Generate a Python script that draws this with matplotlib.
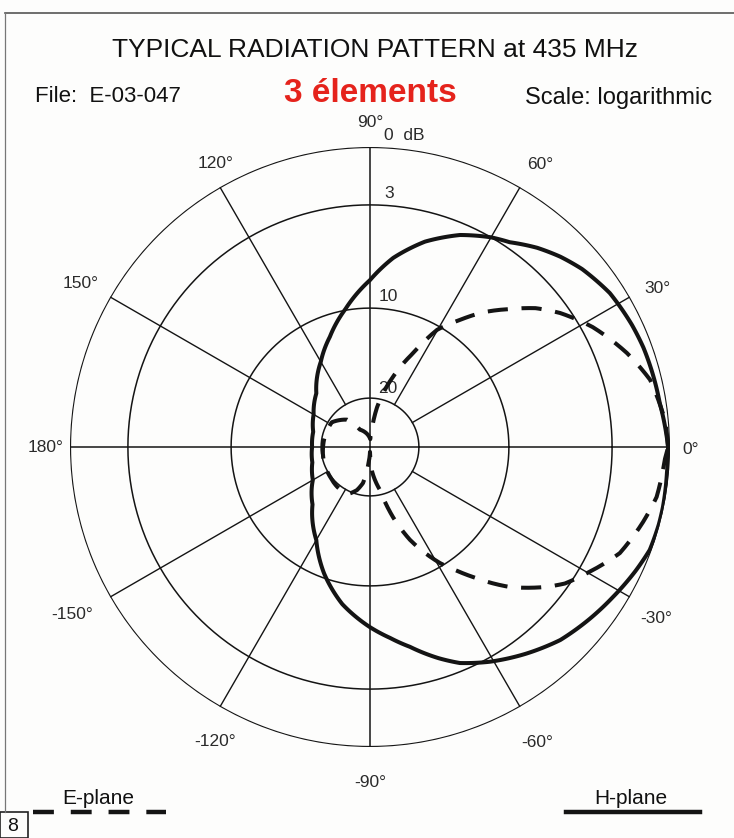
import numpy as np
import matplotlib
matplotlib.use("Agg")
import matplotlib.pyplot as plt
from matplotlib.lines import Line2D
from matplotlib.patches import Rectangle

plt.rcParams['font.family'] = ['Liberation Sans', 'DejaVu Sans']

# ---------------- data ----------------
TITLE = "TYPICAL RADIATION PATTERN at 435 MHz"
FILE_TXT = "File:  E-03-047"
SUBTITLE = "3 élements"
SCALE_TXT = "Scale: logarithmic"

# logarithmic radial scale: ring values (dB below max) and their relative radius
RING_DB = [0, 3, 10, 20]
RING_LABELS = ["0  dB", "3", "10", "20"]
RING_R = [1.0, 0.807, 0.463, 0.163]
CENTER_DB = 30

ANGLE_TICKS = [90, 60, 30, 0, -30, -60, -90, -120, -150, 180, 150, 120]
ANGLE_LABELS = ["90°", "60°", "30°", "0°", "-30°", "-60°", "-90°",
                "-120°", "-150°", "180°", "150°", "120°"]

# H-plane (solid)
H_ANGLE = [0, 8.6, 15, 20, 25, 32.7, 40, 45, 50, 55.7, 60, 67, 75, 83, 90,
           100, 110, 120, 135, 150, 165, 180, -165, -150, -135, -120, -110,
           -100, -90, -84, -78.7, -72, -67.4, -60.8, -53, -45.4, -38, -31.7,
           -25, -20.2, -15, -11.6, -5, -2.5]
H_DB = [0.1, 0.36, 0.42, 0.47, 0.57, 0.78, 1.2, 1.6, 2.07, 2.7, 3.0, 3.8, 5.0,
        6.5, 8.1, 9.9, 12.4, 14.5, 17.0, 18.2, 18.9, 19.0, 18.8, 18.1, 16.4,
        13.5, 10.5, 8.6, 7.2, 6.4, 5.6, 4.36, 3.55, 2.8, 2.13, 1.5, 1.09,
        0.75, 0.36, 0.1, 0.05, 0.05, 0.1, 0.1]

# E-plane (dashed)
E_ANGLE = [0, 5.2, 13.5, 20.1, 28.3, 35.2, 40, 44.6, 50, 54.7, 60.2, 65.4,
           71.8, 80, 83, 88, 120, 130, 147, 158, 180, -143, -129.5, -115.6,
           -106.8, -101, -95, -90, -85, -77, -71.8, -66.7, -58.9, -55, -51.6,
           -45, -38.3, -35, -30.1, -23, -15.6, -9.9, -2.5]
E_DB = [0.1, 0.2, 0.62, 1.37, 2.44, 3.65, 4.77, 6.1, 7.5, 8.86, 10.43, 14.0,
        17.2, 21.8, 25.1, 28.4, 25.9, 22.7, 20.7, 20.6, 20.4, 19.9, 19.7,
        19.6, 20.8, 22.5, 26.9, 29.0, 24.9, 21.0, 17.2, 14.2, 10.37, 9.19,
        8.17, 5.99, 4.12, 3.28, 2.53, 1.48, 0.89, 0.47, 0.26]


def db_to_r(db):
    return np.interp(db, RING_DB + [CENTER_DB], RING_R + [0.0])


def closed(angles, dbs):
    th = np.deg2rad(np.mod(np.asarray(angles, float), 360))
    r = db_to_r(np.asarray(dbs, float))
    return np.append(th, th[0] + 2 * np.pi), np.append(r, r[0])


# ---------------- layout ----------------
W, H = 734, 838
fig = plt.figure(figsize=(W / 100, H / 100), dpi=100)
fig.patch.set_facecolor('#fdfdfc')

CX, CY, R = 370, 447, 300
ax = fig.add_axes([(CX - R) / W, 1 - (CY + R) / H, 2 * R / W, 2 * R / H],
                  projection='polar')
ax.set_ylim(0, 1)
ax.set_facecolor('none')
ax.grid(False)
ax.set_xticks([])
ax.set_yticks([])
ax.spines['polar'].set_visible(False)

INK = '#141414'
TXT = '#2a2a2a'

t = np.linspace(0, 2 * np.pi, 721)
for i, rr in enumerate(RING_R):
    ax.plot(t, np.full_like(t, rr), color=INK, lw=1.6 if i == 0 else 1.1,
            zorder=2)

for a in [30, 60, 120, 150, 210, 240, 300, 330]:
    th = np.deg2rad(a)
    ax.plot([th, th], [RING_R[-1], 1.0], color=INK, lw=1.0, zorder=2)
for a in [0, 90, 180, 270]:
    th = np.deg2rad(a)
    ax.plot([th, th], [0, 1.0], color=INK, lw=1.1, zorder=2)

# patterns (drawn along the polar coordinate system between readings)
th, r = closed(H_ANGLE, H_DB)
h_line, = ax.plot(th, r, color=INK, lw=2.9, zorder=4,
                  solid_joinstyle='round', solid_capstyle='round')
th, r = closed(E_ANGLE, E_DB)
e_line, = ax.plot(th, r, color=INK, lw=2.9, dashes=(5, 3.4), zorder=4)
for ln in (h_line, e_line):
    ln.get_path()._interpolation_steps = 24

# angle labels (per-label radial / angular placement)
LBL_R = [1.083, 1.098, 1.096, 1.07, 1.11, 1.13, 1.117, 1.11, 1.14, 1.083,
         1.11, 1.077]
LBL_DA = [0, -1.1, -1.1, -0.5, -0.9, -0.5, 0, 2.3, -0.6, 0, 0.5, -1.5]
for a, lbl, rr, da in zip(ANGLE_TICKS, ANGLE_LABELS, LBL_R, LBL_DA):
    ax.text(np.deg2rad(a + da), rr, lbl, ha='center', va='center',
            fontsize=12.5, color=TXT, clip_on=False)

# ring labels
offs = {0: (14, 4), 1: (14, 4), 2: (9, 4), 3: (8, 2)}
for i, (rr, lbl) in enumerate(zip(RING_R, RING_LABELS)):
    ax.annotate(lbl, xy=(np.pi / 2, rr), xytext=offs[i],
                textcoords='offset pixels', ha='left', va='bottom',
                fontsize=12.5, color=TXT, annotation_clip=False)

# header texts
fig.text(375 / W, 1 - 50 / H, TITLE, ha='center', va='center', fontsize=19,
         color='#111111')
fig.text(35 / W, 1 - 96 / H, FILE_TXT, ha='left', va='center', fontsize=16,
         color='#111111')
fig.text(370 / W, 1 - 93 / H, SUBTITLE, ha='center', va='center',
         fontsize=24, fontweight='bold', color='#e5231c')
fig.text(712 / W, 1 - 98 / H, SCALE_TXT, ha='right', va='center',
         fontsize=17, color='#111111')

# legend
fig.text(98 / W, 1 - 798 / H, "E-plane", ha='center', va='center',
         fontsize=15, color='#111111')
fig.add_artist(Line2D([33 / W, 166 / W], [1 - 812 / H, 1 - 812 / H],
                      transform=fig.transFigure, color=INK, lw=3.2,
                      dashes=(4.7, 3.8)))
fig.text(631 / W, 1 - 798 / H, "H-plane", ha='center', va='center',
         fontsize=15, color='#111111')
fig.add_artist(Line2D([566 / W, 700 / W], [1 - 812 / H, 1 - 812 / H],
                      transform=fig.transFigure, color=INK, lw=3.2))

# page frame and page number box
fig.add_artist(Line2D([5 / W, 1.0], [1 - 13 / H, 1 - 13 / H],
                      transform=fig.transFigure, color='#555555', lw=1.2))
fig.add_artist(Line2D([5 / W, 5 / W], [1 - 13 / H, 1 - 812 / H],
                      transform=fig.transFigure, color='#777777', lw=0.9))
fig.add_artist(Rectangle((0, 0), 28 / W, 26 / H, transform=fig.transFigure,
                         fill=False, edgecolor='#222222', lw=1.2))
fig.text(13 / W, 1 - 826 / H, "8", ha='center', va='center', fontsize=14,
         color='#111111')

fig.savefig("out.png", dpi=100, facecolor=fig.get_facecolor())
